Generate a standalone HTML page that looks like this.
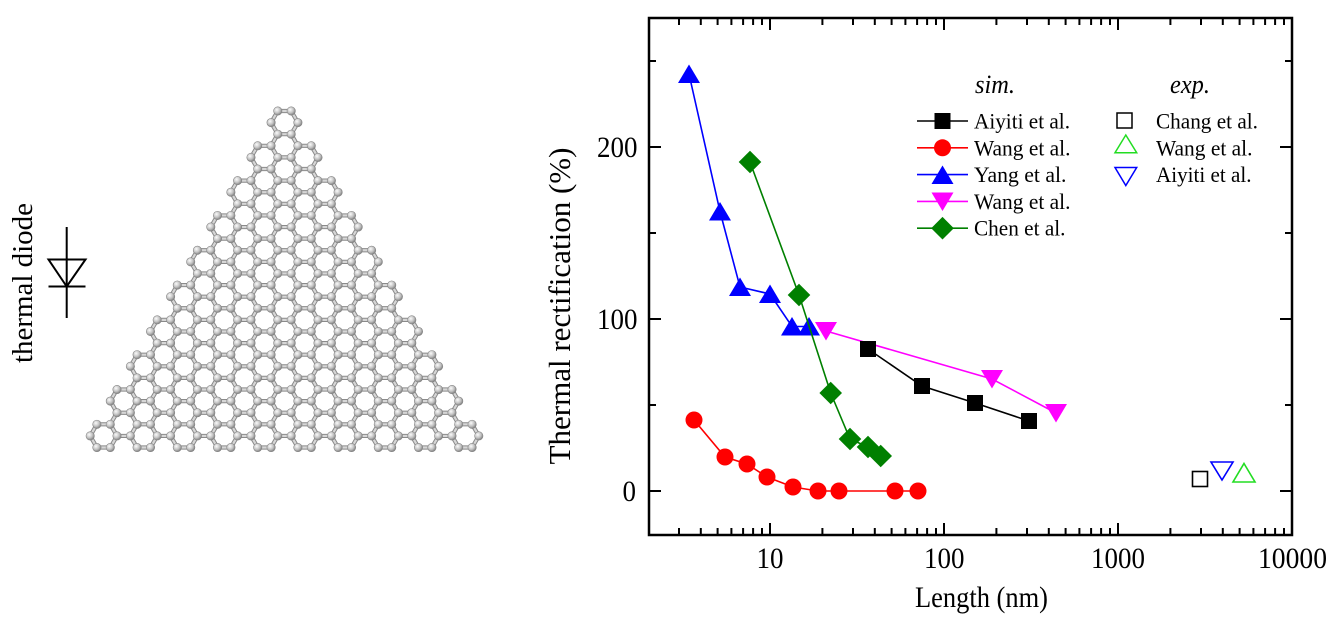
<!DOCTYPE html>
<html>
<head>
<meta charset="utf-8">
<style>
html,body{margin:0;padding:0;background:#fff;}
body{width:1334px;height:624px;overflow:hidden;position:relative;}
svg{position:absolute;left:0;top:0;}
text{font-family:"Liberation Serif","Times New Roman",serif;fill:#000;}
</style>
</head>
<body>
<svg width="1334" height="624" viewBox="0 0 1334 624" xmlns="http://www.w3.org/2000/svg">
<defs>
<radialGradient id="ag" cx="0.38" cy="0.35" r="0.7">
<stop offset="0" stop-color="#fbfbfb"/>
<stop offset="0.55" stop-color="#c2c2c2"/>
<stop offset="1" stop-color="#767676"/>
</radialGradient>
</defs>
<rect x="0" y="0" width="1334" height="624" fill="#fff"/>

<!-- lattice -->
<path id="bd" d="" fill="none" stroke="#8a8a8a" stroke-width="4.2" stroke-linecap="round"/>
<path id="bl" d="" fill="none" stroke="#d6d6d6" stroke-width="2.2" stroke-linecap="round"/>
<g id="atoms"></g>

<!-- diode -->
<g stroke="#000" stroke-width="2" fill="none">
<line x1="66.7" y1="227" x2="66.7" y2="318"/>
<polygon points="48.5,259.5 85.5,259.5 66.7,286.5"/>
<line x1="48.5" y1="286.5" x2="85.5" y2="286.5"/>
</g>
<text transform="translate(32,283) rotate(-90)" text-anchor="middle" font-size="28.5" textLength="160" lengthAdjust="spacingAndGlyphs">thermal diode</text>

<!-- axes frame -->
<rect x="649" y="18" width="643" height="517" fill="none" stroke="#000" stroke-width="2.5"/>
<g stroke="#000" stroke-width="2" fill="none">
<path d="M679,535v-7M700.8,535v-7M717.6,535v-7M731.4,535v-7M743.1,535v-7M753.1,535v-7M762,535v-7
M822.4,535v-7M853,535v-7M874.8,535v-7M891.6,535v-7M905.4,535v-7M917.1,535v-7M927.1,535v-7M936,535v-7
M996.4,535v-7M1027,535v-7M1048.8,535v-7M1065.6,535v-7M1079.4,535v-7M1091.1,535v-7M1101.1,535v-7M1110,535v-7
M1170.4,535v-7M1201,535v-7M1222.8,535v-7M1239.6,535v-7M1253.4,535v-7M1265.1,535v-7M1275.1,535v-7M1284,535v-7"/>
<path d="M770,535v-12M944,535v-12M1118,535v-12"/>
<path d="M679,18v7M700.8,18v7M717.6,18v7M731.4,18v7M743.1,18v7M753.1,18v7M762,18v7
M822.4,18v7M853,18v7M874.8,18v7M891.6,18v7M905.4,18v7M917.1,18v7M927.1,18v7M936,18v7
M996.4,18v7M1027,18v7M1048.8,18v7M1065.6,18v7M1079.4,18v7M1091.1,18v7M1101.1,18v7M1110,18v7
M1170.4,18v7M1201,18v7M1222.8,18v7M1239.6,18v7M1253.4,18v7M1265.1,18v7M1275.1,18v7M1284,18v7"/>
<path d="M770,18v12M944,18v12M1118,18v12"/>
<path d="M649,491h12M649,319h12M649,147h12M649,405h7M649,233h7M649,61h7"/>
<path d="M1292,491h-12M1292,319h-12M1292,147h-12M1292,405h-7M1292,233h-7M1292,61h-7"/>
</g>

<!-- tick labels -->
<g font-size="29.5">
<text x="622.5" y="501" textLength="13.5" lengthAdjust="spacingAndGlyphs">0</text>
<text x="597" y="329" textLength="40.5" lengthAdjust="spacingAndGlyphs">100</text>
<text x="597" y="157" textLength="40.5" lengthAdjust="spacingAndGlyphs">200</text>
<text x="756.5" y="568" textLength="27" lengthAdjust="spacingAndGlyphs">10</text>
<text x="924" y="568" textLength="40.5" lengthAdjust="spacingAndGlyphs">100</text>
<text x="1091" y="568" textLength="54" lengthAdjust="spacingAndGlyphs">1000</text>
<text x="1258" y="568" textLength="69" lengthAdjust="spacingAndGlyphs">10000</text>
</g>
<text x="915" y="607" font-size="30" textLength="133" lengthAdjust="spacingAndGlyphs">Length (nm)</text>
<text transform="translate(570,306) rotate(-90)" text-anchor="middle" font-size="31" textLength="317" lengthAdjust="spacingAndGlyphs">Thermal rectification (%)</text>

<!-- red (Wang) -->
<polyline points="694,420 725,457 747,464 767,477 793,487 818,491 839,491 895,491 918,491" fill="none" stroke="#ff0000" stroke-width="1.6"/>
<g fill="#ff0000">
<circle cx="694" cy="420" r="8.5"/><circle cx="725" cy="457" r="8.5"/><circle cx="747" cy="464" r="8.5"/>
<circle cx="767" cy="477" r="8.5"/><circle cx="793" cy="487" r="8.5"/><circle cx="818" cy="491" r="8.5"/>
<circle cx="839" cy="491" r="8.5"/><circle cx="895" cy="491" r="8.5"/><circle cx="918" cy="491" r="8.5"/>
</g>

<!-- blue (Yang) -->
<polyline points="689,74 720,211.5 740,287 770,294 792,326.5 809,326.5" fill="none" stroke="#0000ff" stroke-width="1.6"/>
<g fill="#0000ff">
<polygon points="689,64.5 700,83 678,83"/>
<polygon points="720,202 731,220.5 709,220.5"/>
<polygon points="740,277.5 751,296 729,296"/>
<polygon points="770,284.5 781,303 759,303"/>
<polygon points="792,317 803,335.5 781,335.5"/>
<polygon points="809,317 820,335.5 798,335.5"/>
</g>

<!-- magenta (Wang) -->
<polyline points="826,331 992,379 1056,413" fill="none" stroke="#ff00ff" stroke-width="1.6"/>
<g fill="#ff00ff">
<polygon points="815,322 837,322 826,340.5"/>
<polygon points="981,370 1003,370 992,388.5"/>
<polygon points="1045,404 1067,404 1056,422.5"/>
</g>

<!-- green (Chen) -->
<polyline points="750,162 799,295 830.7,393 850,439 868,447 880.7,456" fill="none" stroke="#008000" stroke-width="1.6"/>
<g fill="#008000">
<polygon points="750,150.7 761.3,162 750,173.3 738.7,162"/>
<polygon points="799,283.7 810.3,295 799,306.3 787.7,295"/>
<polygon points="830.7,381.7 842,393 830.7,404.3 819.4,393"/>
<polygon points="850,427.7 861.3,439 850,450.3 838.7,439"/>
<polygon points="868,435.7 879.3,447 868,458.3 856.7,447"/>
<polygon points="880.7,444.7 892,456 880.7,467.3 869.4,456"/>
</g>

<!-- black (Aiyiti) -->
<polyline points="868,349 922,386 975,403 1029,421" fill="none" stroke="#000" stroke-width="1.6"/>
<g fill="#000">
<rect x="860" y="341" width="16" height="16"/>
<rect x="914" y="378" width="16" height="16"/>
<rect x="967" y="395" width="16" height="16"/>
<rect x="1021" y="413" width="16" height="16"/>
</g>

<!-- exp points -->
<rect x="1192.5" y="471.5" width="15" height="15" fill="none" stroke="#000" stroke-width="1.6"/>
<polygon points="1211,462 1233,462 1222,480" fill="none" stroke="#0000ff" stroke-width="1.6"/>
<polygon points="1244,463.5 1255,482 1233,482" fill="none" stroke="#22dd22" stroke-width="1.6"/>

<!-- legend -->
<text x="975" y="93" font-size="26" font-style="italic" textLength="40" lengthAdjust="spacingAndGlyphs">sim.</text>
<text x="1170" y="93" font-size="26" font-style="italic" textLength="40" lengthAdjust="spacingAndGlyphs">exp.</text>
<g stroke-width="1.6">
<line x1="917" y1="121" x2="968" y2="121" stroke="#000"/>
<line x1="917" y1="147.8" x2="968" y2="147.8" stroke="#ff0000"/>
<line x1="917" y1="174.6" x2="968" y2="174.6" stroke="#0000ff"/>
<line x1="917" y1="201.4" x2="968" y2="201.4" stroke="#ff00ff"/>
<line x1="917" y1="228.2" x2="968" y2="228.2" stroke="#008000"/>
</g>
<rect x="934.5" y="113" width="16" height="16" fill="#000"/>
<circle cx="942.5" cy="147.8" r="8.5" fill="#ff0000"/>
<polygon points="942.5,165.5 953.5,184 931.5,184" fill="#0000ff"/>
<polygon points="931.5,192.5 953.5,192.5 942.5,211" fill="#ff00ff"/>
<polygon points="942.5,216.9 953.8,228.2 942.5,239.5 931.2,228.2" fill="#008000"/>
<g font-size="22">
<text x="974" y="128.5" textLength="96" lengthAdjust="spacingAndGlyphs">Aiyiti et al.</text>
<text x="974" y="155.3" textLength="96.5" lengthAdjust="spacingAndGlyphs">Wang et al.</text>
<text x="974" y="182.1" textLength="92.5" lengthAdjust="spacingAndGlyphs">Yang et al.</text>
<text x="974" y="208.9" textLength="96.5" lengthAdjust="spacingAndGlyphs">Wang et al.</text>
<text x="974" y="235.7" textLength="91.5" lengthAdjust="spacingAndGlyphs">Chen et al.</text>
<text x="1156" y="128.5" textLength="102" lengthAdjust="spacingAndGlyphs">Chang et al.</text>
<text x="1156" y="155.3" textLength="96.5" lengthAdjust="spacingAndGlyphs">Wang et al.</text>
<text x="1156" y="182.1" textLength="95.5" lengthAdjust="spacingAndGlyphs">Aiyiti et al.</text>
</g>
<rect x="1117" y="113" width="15" height="15" fill="none" stroke="#000" stroke-width="1.5"/>
<polygon points="1125.8,135 1136.7,152.7 1115,152.7" fill="none" stroke="#22dd22" stroke-width="1.5"/>
<polygon points="1115,167.5 1136.7,167.5 1125.8,185.5" fill="none" stroke="#0000ff" stroke-width="1.5"/>
</svg>

<script>
(function(){
var a=13.4,h=a*Math.sqrt(3)/2,x0=284.5,y0=122.6,V={},E={};
function key(p){return Math.round(p[0]*4)+','+Math.round(p[1]*4);}
for(var i=-9;i<=9;i++){
  for(var k=3*Math.abs(i);k<=27;k+=2){
    var cx=x0+1.5*a*i,cy=y0+h*k,p=[];
    for(var t=0;t<6;t++){var an=t*Math.PI/3;p.push([cx+a*Math.cos(an),cy+a*Math.sin(an)]);}
    for(t=0;t<6;t++){
      var q=p[t],r=p[(t+1)%6],kq=key(q),kr=key(r);
      V[kq]=q;V[kr]=r;
      var ke=kq<kr?kq+'|'+kr:kr+'|'+kq;E[ke]=[q,r];
    }
  }
}
var d='';
for(var e in E){var s=E[e];d+='M'+s[0][0].toFixed(2)+','+s[0][1].toFixed(2)+'L'+s[1][0].toFixed(2)+','+s[1][1].toFixed(2);}
document.getElementById('bd').setAttribute('d',d);
document.getElementById('bl').setAttribute('d',d);
var g=document.getElementById('atoms'),ns='http://www.w3.org/2000/svg';
for(var v in V){
  var c=document.createElementNS(ns,'circle');
  c.setAttribute('cx',V[v][0].toFixed(2));c.setAttribute('cy',V[v][1].toFixed(2));
  c.setAttribute('r','4.2');c.setAttribute('fill','url(#ag)');
  c.setAttribute('stroke','#858585');c.setAttribute('stroke-width','0.6');
  g.appendChild(c);
}
})();
</script>
</body>
</html>
